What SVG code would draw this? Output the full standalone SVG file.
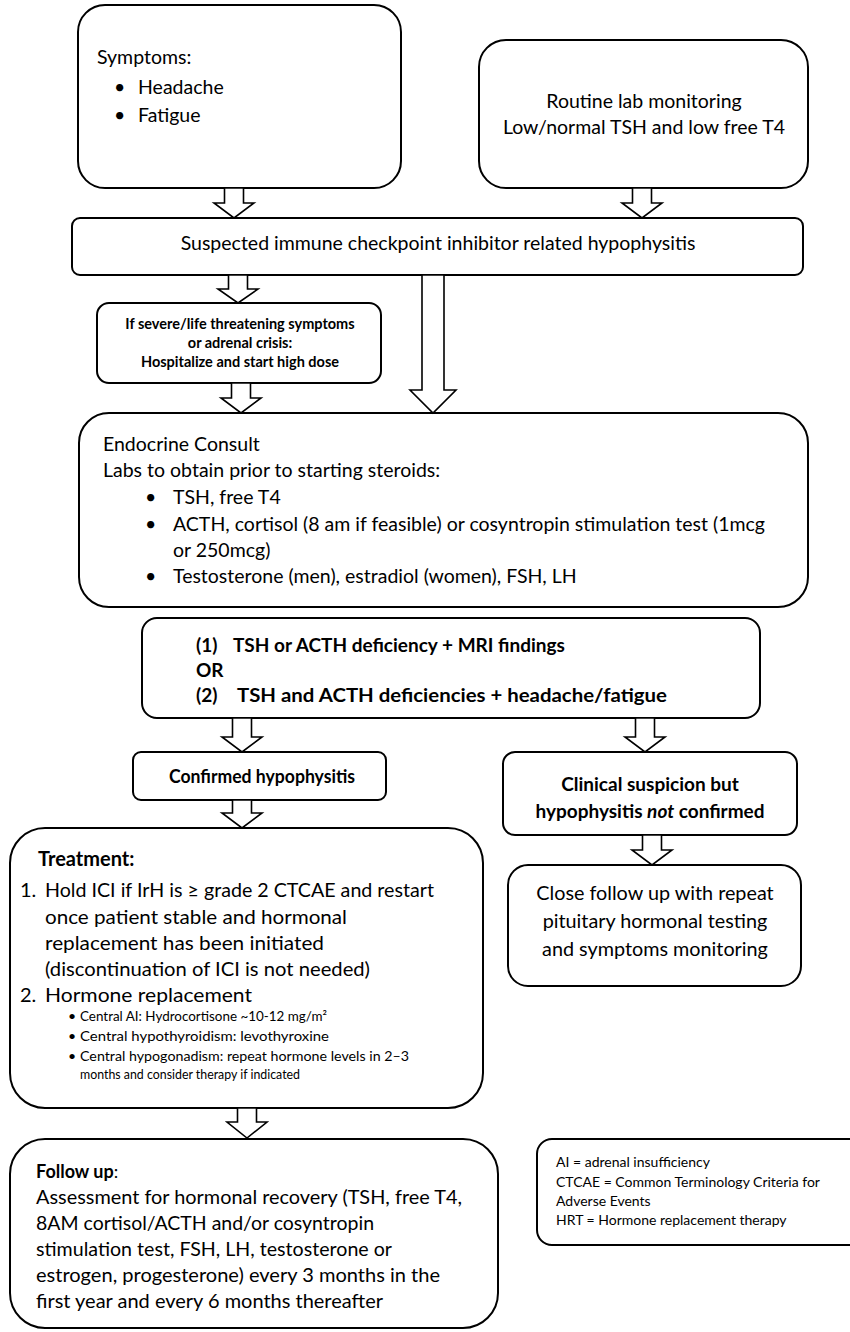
<svg xmlns="http://www.w3.org/2000/svg" width="850" height="1332" viewBox="0 0 850 1332">
<style>
  .box{fill:#fff;stroke:#000;stroke-width:2}
  .arr{fill:#fff;stroke:#000;stroke-width:1.6;stroke-linejoin:miter}
  text{font-family:Lato,"Liberation Sans",sans-serif;fill:#000}
  .m{text-anchor:middle}
  .f18{font-size:19.5px}
  .f20{font-size:19.8px}
  .f21{font-size:20px}
  .bd{font-size:19px;font-weight:bold}
  .bb{font-weight:bold}
  .sb{font-size:14.5px;font-weight:bold}
  .sm{font-size:14px}
  .lg{font-size:14px}
</style>
<rect width="850" height="1332" fill="#fff"/>

<g id="symptoms">
  <rect class="box" x="78" y="5" width="323" height="183" rx="27"/>
  <text class="f18" x="97" y="64">Symptoms:</text>
  <text class="f18" x="114" y="94">•</text>
  <text class="f18" x="138" y="94">Headache</text>
  <text class="f18" x="114" y="122">•</text>
  <text class="f18" x="138" y="122">Fatigue</text>
</g>

<g id="routine">
  <rect class="box" x="479" y="40" width="329" height="148" rx="27"/>
  <text class="f18 m" x="644" y="108">Routine lab monitoring</text>
  <text class="f18 m" x="644" y="134">Low/normal TSH and low free T4</text>
</g>

<g id="suspected">
  <rect class="box" x="72" y="218" width="731" height="57" rx="8"/>
  <text class="f18 m" x="438" y="250">Suspected immune checkpoint inhibitor related hypophysitis</text>
</g>

<g id="severe">
  <rect class="box" x="97" y="303" width="284" height="80" rx="12"/>
  <text class="sb m" x="240" y="329">If severe/life threatening symptoms</text>
  <text class="sb m" x="240" y="348">or adrenal crisis:</text>
  <text class="sb m" x="240" y="367">Hospitalize and start high dose</text>
</g>

<g id="endocrine">
  <rect class="box" x="79" y="413" width="729" height="194" rx="30"/>
  <text class="f18" x="103" y="451">Endocrine Consult</text>
  <text class="f18" x="103" y="477">Labs to obtain prior to starting steroids:</text>
  <text class="f18" x="145" y="504">•</text>
  <text class="f18" x="173" y="504">TSH, free T4</text>
  <text class="f18" x="145" y="531">•</text>
  <text class="f18" x="173" y="531">ACTH, cortisol (8 am if feasible) or cosyntropin stimulation test (1mcg</text>
  <text class="f18" x="173" y="557">or 250mcg)</text>
  <text class="f18" x="145" y="583">•</text>
  <text class="f18" x="173" y="583">Testosterone (men), estradiol (women), FSH, LH</text>
</g>

<g id="criteria">
  <rect class="box" x="142" y="618" width="618" height="100" rx="15"/>
  <text class="bd" x="196" y="652">(1)</text>
  <text class="bd" x="233" y="652">TSH or ACTH deficiency + MRI findings</text>
  <text class="bd" x="196" y="677">OR</text>
  <text class="bd" x="196" y="702">(2)</text>
  <text class="bd" x="237" y="702" textLength="430" lengthAdjust="spacingAndGlyphs">TSH and ACTH deficiencies + headache/fatigue</text>
</g>

<g id="confirmed">
  <rect class="box" x="133" y="752" width="253" height="48" rx="8"/>
  <text class="bd" x="169" y="783" textLength="186" lengthAdjust="spacingAndGlyphs">Confirmed hypophysitis</text>
</g>

<g id="notconfirmed">
  <rect class="box" x="503" y="752" width="294" height="83" rx="12"/>
  <text class="bd m" x="650" y="791">Clinical suspicion but</text>
  <text class="bd m" x="650" y="818">hypophysitis <tspan font-style="italic">not</tspan> confirmed</text>
</g>

<g id="closefollow">
  <rect class="box" x="508" y="865" width="293" height="121" rx="20"/>
  <text class="f20 m" x="655" y="900">Close follow up with repeat</text>
  <text class="f20 m" x="655" y="928">pituitary hormonal testing</text>
  <text class="f20 m" x="655" y="956">and symptoms monitoring</text>
</g>

<g id="treatment">
  <rect class="box" x="10" y="828" width="473" height="280" rx="35"/>
  <text class="f21 bb" x="38" y="866">Treatment:</text>
  <text class="f21" x="20" y="897">1.</text>
  <text class="f21" x="45" y="897" textLength="389" lengthAdjust="spacingAndGlyphs">Hold ICI if IrH is ≥ grade 2 CTCAE and restart</text>
  <text class="f21" x="45" y="924" textLength="302" lengthAdjust="spacingAndGlyphs">once patient stable and hormonal</text>
  <text class="f21" x="45" y="950" textLength="279" lengthAdjust="spacingAndGlyphs">replacement has been initiated</text>
  <text class="f21" x="45" y="976" textLength="325" lengthAdjust="spacingAndGlyphs">(discontinuation of ICI is not needed)</text>
  <text class="f21" x="20" y="1002">2.</text>
  <text class="f21" x="45" y="1002" textLength="207" lengthAdjust="spacingAndGlyphs">Hormone replacement</text>
  <text class="sm" x="68" y="1021">•</text>
  <text class="sm" x="80" y="1021" textLength="247" lengthAdjust="spacingAndGlyphs">Central AI: Hydrocortisone ~10-12 mg/m²</text>
  <text class="sm" x="68" y="1041">•</text>
  <text class="sm" x="80" y="1041" textLength="249" lengthAdjust="spacingAndGlyphs">Central hypothyroidism: levothyroxine</text>
  <text class="sm" x="68" y="1061">•</text>
  <text class="sm" x="80" y="1061" textLength="329" lengthAdjust="spacingAndGlyphs">Central hypogonadism: repeat hormone levels in 2–3</text>
  <text class="sm" x="80" y="1079" textLength="220" lengthAdjust="spacingAndGlyphs">months and consider therapy if indicated</text>
</g>

<g id="followup">
  <rect class="box" x="10" y="1139" width="488" height="189" rx="35"/>
  <text x="36" y="1178" font-size="18px"><tspan font-weight="bold">Follow up</tspan>:</text>
  <text class="f20" x="36" y="1204" textLength="426" lengthAdjust="spacingAndGlyphs">Assessment for hormonal recovery (TSH, free T4,</text>
  <text class="f20" x="36" y="1230" textLength="338" lengthAdjust="spacingAndGlyphs">8AM cortisol/ACTH and/or cosyntropin</text>
  <text class="f20" x="36" y="1256" textLength="356" lengthAdjust="spacingAndGlyphs">stimulation test, FSH, LH, testosterone or</text>
  <text class="f20" x="36" y="1282" textLength="404" lengthAdjust="spacingAndGlyphs">estrogen, progesterone) every 3 months in the</text>
  <text class="f20" x="36" y="1308" textLength="347" lengthAdjust="spacingAndGlyphs">first year and every 6 months thereafter</text>
</g>

<g id="legend">
  <rect class="box" x="537" y="1139" width="330" height="106" rx="15"/>
  <text class="lg" x="556" y="1167">AI = adrenal insufficiency</text>
  <text class="lg" x="556" y="1187">CTCAE = Common Terminology Criteria for</text>
  <text class="lg" x="556" y="1206">Adverse Events</text>
  <text class="lg" x="556" y="1225">HRT = Hormone replacement therapy</text>
</g>

<g id="connectors">
  <polygon class="arr" points="224.5,188 243.5,188 243.5,203 254,203 234,218 214,203 224.5,203"/>
  <polygon class="arr" points="632.5,188 651.5,188 651.5,203 662,203 642,218 622,203 632.5,203"/>
  <polygon class="arr" points="228.5,275 247.5,275 247.5,289 258,289 238,303 218,289 228.5,289"/>
  <polygon class="arr" points="422,275 444,275 444,390 456,390 433,413 410,390 422,390"/>
  <polygon class="arr" points="231.5,383 250.5,383 250.5,398 261,398 241,413 221,398 231.5,398"/>
  <polygon class="arr" points="232.5,718 251.5,718 251.5,737 262,737 242,752 222,737 232.5,737"/>
  <polygon class="arr" points="635.5,718 654.5,718 654.5,737 665,737 645,752 625,737 635.5,737"/>
  <polygon class="arr" points="232.5,800 251.5,800 251.5,813 262,813 242,828 222,813 232.5,813"/>
  <polygon class="arr" points="642.5,835 661.5,835 661.5,850 672,850 652,865 632,850 642.5,850"/>
  <polygon class="arr" points="237.5,1108 256.5,1108 256.5,1122 267,1122 247,1138 227,1122 237.5,1122"/>
</g>
</svg>
